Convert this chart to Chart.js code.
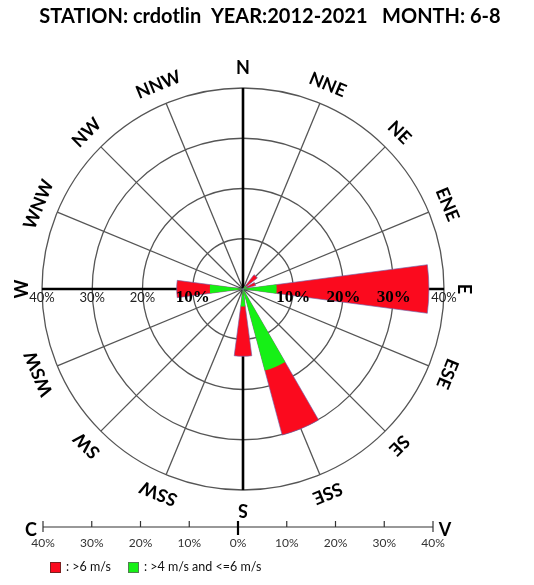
<!DOCTYPE html>
<html><head><meta charset="utf-8">
<script src="https://cdn.jsdelivr.net/npm/chart.js@4.4.1/dist/chart.umd.min.js"></script>
<style>html,body{margin:0;padding:0;background:#fff;} canvas{display:block;}</style>
</head><body>
<canvas id="c" width="534" height="585"></canvas>
<script>
// ---- data ----
const directions = ['N','NNE','NE','ENE','E','ESE','SE','SSE','S','SSW','SW','WSW','W','WNW','NW','NNW'];
const speed4to6  = [0, 0, 0.8, 0.8, 6.7, 0, 0, 16.8, 3.5, 0, 0, 0, 6.6, 0, 0, 0];   // % : >4 m/s and <=6 m/s
const speedOver6 = [0, 0, 2.8, 1.8, 30.3, 0, 0, 13.3, 9.9, 0, 0, 0, 6.6, 0, 0, 0];  // % : >6 m/s
const ringTicks  = [10, 20, 30, 40];
const keyTicks   = [40, 30, 20, 10, 0, 10, 20, 30, 40];
const titleText  = 'STATION: crdotlin  YEAR:2012-2021   MONTH: 6-8';
const legendText = [': >6 m/s', ': >4 m/s and <=6 m/s'];

const RED = '#fb0a1e', GREEN = '#16f016';

// polar layout: 3 slots of 7.5deg per direction (wedge spans 15deg, centred on direction)
const labels48 = directions.flatMap(d => ['', d, '']);
const greenData = speed4to6.flatMap(v => [v, 0]);
const totalData = speed4to6.map((v, i) => v + speedOver6[i]).flatMap(v => [v, 0]);
const arcAngle = c => (c.dataIndex % 2 === 0 ? 15 : 7.5);

const textPlugin = {
  id: 'roseText',
  afterDraw(chart) {
    const ctx = chart.ctx, s = chart.scales.r;
    const cx = s.xCenter, cy = s.yCenter, R = s.drawingArea;
    ctx.save();
    ctx.fillStyle = '#000';
    ctx.textAlign = 'center';
    ctx.textBaseline = 'middle';
    // title
    ctx.font = 'bold 20px Lato';
    ctx.fillText(titleText, 270, 17);
    // direction labels (tangentially rotated)
    ctx.font = 'bold 18px Lato';
    directions.forEach((d, k) => {
      const p = s.getPointPosition(3 * k + 1, R + 20);
      ctx.save();
      ctx.translate(p.x, p.y);
      ctx.rotate(k * Math.PI / 8);
      ctx.fillText(d, 0, 0);
      ctx.restore();
    });
    // ring labels along E-W axis
    const ly = cy + 9;
    ringTicks.forEach(v => {
      const d = s.getDistanceFromCenterForValue(v);
      // right side
      if (v <= 30) { ctx.font = 'bold 17px "Liberation Serif"'; ctx.fillStyle = '#000'; }
      else { ctx.font = '13px Lato'; ctx.fillStyle = '#222'; }
      ctx.fillText(v + '%', cx + d, ly);
      // left side
      if (v <= 10) { ctx.font = 'bold 17px "Liberation Serif"'; ctx.fillStyle = '#000'; }
      else { ctx.font = '13px Lato'; ctx.fillStyle = '#222'; }
      ctx.fillText(v + '%', cx - d, ly);
    });
    // bottom key scale
    const x0 = 43, x1 = 433, ay = 527;
    ctx.strokeStyle = '#333';
    ctx.lineWidth = 1.2;
    ctx.beginPath(); ctx.moveTo(x0, ay); ctx.lineTo(x1, ay); ctx.stroke();
    const step = (x1 - x0) / (keyTicks.length - 1);
    ctx.font = '12px Lato';
    ctx.fillStyle = '#333';
    keyTicks.forEach((v, i) => {
      const x = x0 + i * step;
      const mid = i === (keyTicks.length - 1) / 2;
      const end = i === 0 || i === keyTicks.length - 1;
      ctx.lineWidth = mid ? 2.2 : 1.2;
      ctx.strokeStyle = mid ? '#000' : '#333';
      ctx.beginPath();
      ctx.moveTo(x, mid ? 521 : ay - 6);
      ctx.lineTo(x, mid ? 535 : (end ? ay + 5 : ay));
      ctx.stroke();
      ctx.fillText(v + '%', x, 543);
    });
    ctx.fillStyle = '#000';
    ctx.font = 'bold 18px Lato';
    ctx.fillText('C', 31, 530);
    ctx.fillText('V', 445, 530);
    // legend
    ctx.font = '12.5px Lato';
    ctx.textAlign = 'left';
    [[50, RED, '#7a2020'], [128, GREEN, '#508050']].forEach(([x, col, edge], i) => {
      ctx.fillStyle = col;
      ctx.fillRect(x, 562, 10, 10);
      ctx.strokeStyle = edge; ctx.lineWidth = 1;
      ctx.strokeRect(x + 0.5, 562.5, 10, 10);
      ctx.fillStyle = '#111';
      ctx.fillText(legendText[i], x + 16, 567);
    });
    ctx.restore();
  }
};

new Chart(document.getElementById('c'), {
  type: 'polarArea',
  data: {
    labels: labels48,
    datasets: [
      { label: '>4 m/s and <=6 m/s', data: greenData, backgroundColor: GREEN,
        borderWidth: 0, angle: arcAngle },
      { label: '>6 m/s', data: totalData, backgroundColor: RED,
        borderColor: 'rgba(110,100,170,0.8)',
        borderWidth: c => (c.dataIndex % 2 === 0 && c.raw > 0 ? 0.8 : 0), angle: arcAngle }
    ]
  },
  options: {
    responsive: false,
    animation: false,
    layout: { padding: { left: 42, right: 90, top: 88, bottom: 95 } },
    plugins: { legend: { display: false }, tooltip: { enabled: false } },
    scales: {
      r: {
        min: 0, max: 40,
        startAngle: -7.5,
        ticks: { display: false, stepSize: 10 },
        grid: { circular: true, color: '#555', lineWidth: 1.3 },
        angleLines: {
          display: true,
          color: c => (c.index % 3 === 1 ? (((c.index - 1) / 3) % 4 === 0 ? '#000' : '#555') : 'rgba(0,0,0,0)'),
          lineWidth: c => (c.index % 3 === 1 ? (((c.index - 1) / 3) % 4 === 0 ? 2.6 : 1.3) : 0)
        },
        pointLabels: { display: false }
      }
    }
  },
  plugins: [textPlugin]
});
</script>
</body></html>
